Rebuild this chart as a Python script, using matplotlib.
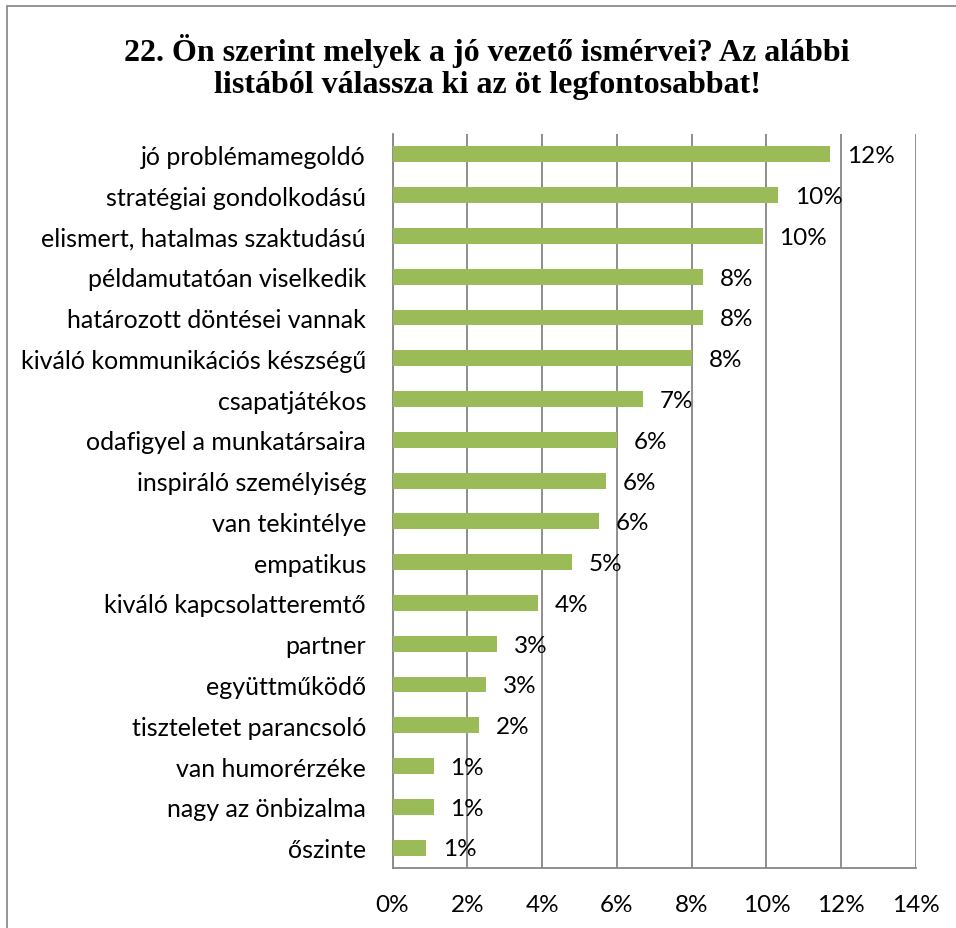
import matplotlib
matplotlib.use("Agg")
import matplotlib.pyplot as plt
from matplotlib.patches import Rectangle
from matplotlib.ticker import FuncFormatter

# answers to question 22, share of all mentions (%)
categories = [
    "jó problémamegoldó",
    "stratégiai gondolkodású",
    "elismert, hatalmas szaktudású",
    "példamutatóan viselkedik",
    "határozott döntései vannak",
    "kiváló kommunikációs készségű",
    "csapatjátékos",
    "odafigyel a munkatársaira",
    "inspiráló személyiség",
    "van tekintélye",
    "empatikus",
    "kiváló kapcsolatteremtő",
    "partner",
    "együttműködő",
    "tiszteletet parancsoló",
    "van humorérzéke",
    "nagy az önbizalma",
    "őszinte",
]
shares = [11.71, 10.31, 9.90, 8.30, 8.30, 8.01, 6.70, 6.00, 5.70, 5.52,
          4.80, 3.90, 2.80, 2.51, 2.31, 1.10, 1.10, 0.90]
x_ticks = [0, 2, 4, 6, 8, 10, 12, 14]

title = ("22. Ön szerint melyek a jó vezető ismérvei? Az alábbi\n"
         "listából válassza ki az öt legfontosabbat!")

W, H = 956, 929
BAR_GREEN = "#9BBB59"
GRID_GREY = "#868686"
plt.rcParams["font.family"] = ["Lato", "DejaVu Sans"]


def px_box(left, top, right, bottom):
    return [left / W, 1 - bottom / H, (right - left) / W, (bottom - top) / H]


def main():
    fig = plt.figure(figsize=(W / 100, H / 100), dpi=100)
    fig.patch.set_facecolor("white")

    # chart frame, only the top and left edges fall inside the image
    fig.patches.append(Rectangle((7 / W, -0.1), 2, 0.1 + (H - 7) / H,
                                 transform=fig.transFigure, fill=False,
                                 edgecolor="#8c8c8c", linewidth=1.3))

    fig.text(487 / W, 1 - 67 / H, title, ha="center", va="center",
             family="Liberation Serif", fontweight="bold", fontsize=23,
             linespacing=1.12)

    ax = fig.add_axes(px_box(392.5, 135, 916, 869))
    y = list(range(len(categories)))
    ax.barh(y, shares, height=0.39, color=BAR_GREEN, zorder=3)

    for yi, v in zip(y, shares):
        ax.annotate(f"{int(v + 0.5)}%", (v, yi), xytext=(12, -1),
                    textcoords="offset points", ha="left", va="center",
                    fontsize=17.5, color="black", zorder=4)

    ax.set_xlim(0, 14)
    ax.set_ylim(len(categories) - 0.5, -0.5)
    ax.set_xticks(x_ticks)
    ax.xaxis.set_major_formatter(FuncFormatter(lambda v, _: f"{v:.0f}%"))
    ax.set_yticks(y)
    ax.set_yticklabels(categories)
    ax.tick_params(axis="both", length=0, labelsize=18, colors="black")
    ax.tick_params(axis="x", labelsize=17.5, pad=19)
    ax.tick_params(axis="y", pad=19)

    ax.grid(axis="x", color=GRID_GREY, linewidth=1.3, zorder=0)
    for side in ("top", "right"):
        ax.spines[side].set_visible(False)
    for side in ("left", "bottom"):
        ax.spines[side].set_color(GRID_GREY)
        ax.spines[side].set_linewidth(1.3)

    fig.savefig("out.png", dpi=100)


if __name__ == "__main__":
    main()
